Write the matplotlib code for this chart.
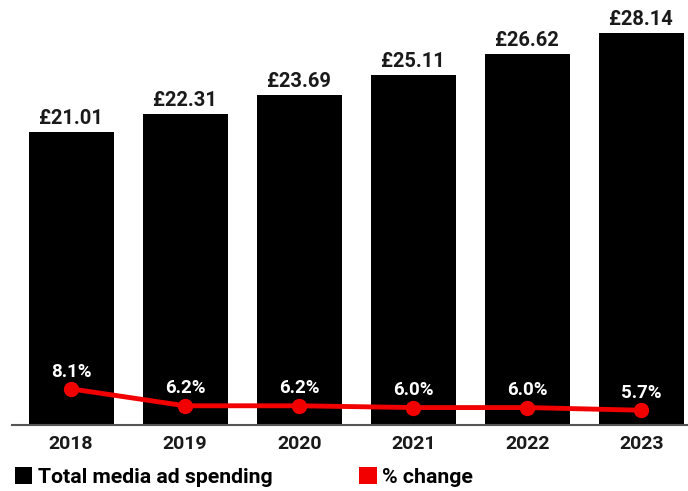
import matplotlib
matplotlib.use("Agg")
import matplotlib.pyplot as plt
from matplotlib.patches import Patch

years = ["2018", "2019", "2020", "2021", "2022", "2023"]
spending = [21.01, 22.31, 23.69, 25.11, 26.62, 28.14]
pct_change = [8.1, 6.2, 6.2, 6.0, 6.0, 5.7]

plt.rcParams["font.family"] = ["Roboto", "DejaVu Sans"]

fig = plt.figure(figsize=(6.88, 4.91), dpi=100)
ax = fig.add_axes([12 / 688, 66 / 491, 676 / 688, 405 / 491])
x = list(range(len(years)))

ax.bar(x, spending, width=0.745, color="black", zorder=2)
for xi, v in zip(x, spending):
    ax.annotate(f"£{v:.2f}", (xi, v), xytext=(0, 3), textcoords="offset points",
                ha="center", va="bottom", fontsize=14.5, fontweight="bold", color="#1a1a1a")

ax.set_xlim(-0.518, 5.41)
ax.set_ylim(0, 29.05)
ax.set_xticks(x)
ax.set_xticklabels(years, fontsize=14, fontweight="bold", color="#1a1a1a")
ax.tick_params(axis="x", length=0, pad=7)
ax.set_yticks([])
for side in ("left", "right", "top"):
    ax.spines[side].set_visible(False)
ax.spines["bottom"].set_color("#555555")
ax.spines["bottom"].set_linewidth(1.5)

ax2 = ax.twinx()
ax2.plot(x, pct_change, color="#f20000", lw=3.5, marker="o", markersize=10,
         solid_capstyle="round", zorder=3)
for xi, v in zip(x, pct_change):
    ax2.annotate(f"{v:.1f}%", (xi, v), xytext=(0, 6), textcoords="offset points",
                 ha="center", va="bottom", fontsize=13.5, fontweight="bold", color="white")
ax2.set_ylim(4.04, 49.55)
ax2.set_yticks([])
for side in ("left", "right", "top", "bottom"):
    ax2.spines[side].set_visible(False)

handles = [Patch(facecolor="black", label="Total media ad spending"),
           Patch(facecolor="#f20000", label="% change")]
fig.legend(handles=handles, loc="center left", bbox_to_anchor=(15 / 688, 14 / 491),
           ncol=2, frameon=False, borderpad=0, borderaxespad=0,
           handlelength=0.82, handleheight=0.82, handletextpad=0.25, columnspacing=4.1,
           prop={"weight": "bold", "size": 15.3})

fig.savefig("out.png", dpi=100)
